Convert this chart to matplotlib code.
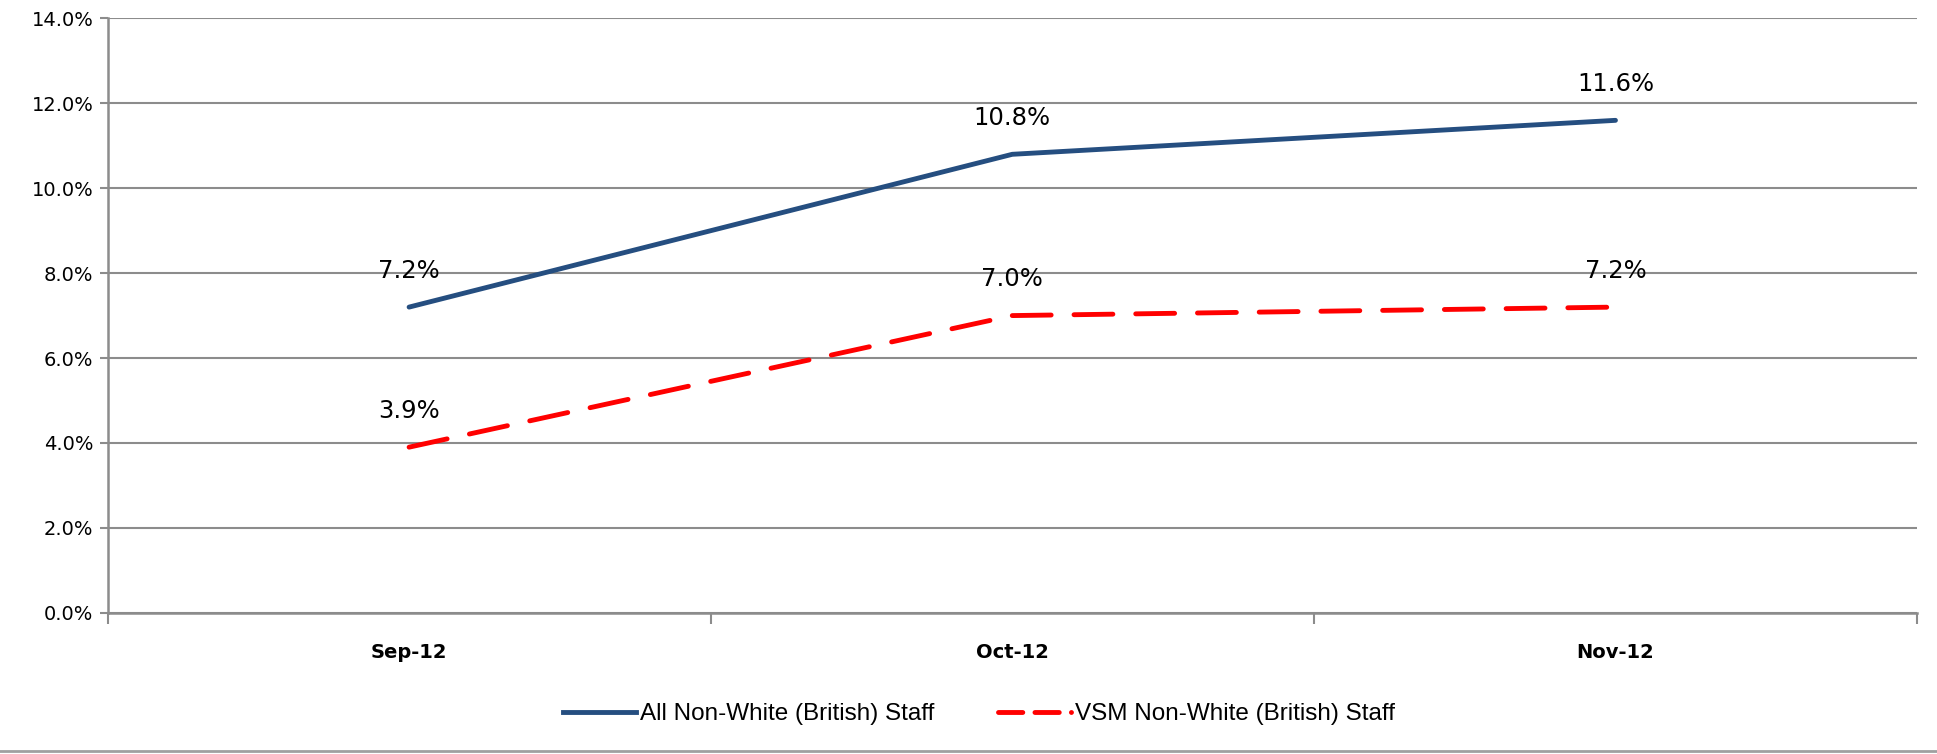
import matplotlib
matplotlib.use("Agg")
import matplotlib.pyplot as plt
from matplotlib.ticker import FuncFormatter, FixedLocator
from matplotlib.lines import Line2D

months = ["Sep-12", "Oct-12", "Nov-12"]
all_staff = [7.2, 10.8, 11.6]
vsm_staff = [3.9, 7.0, 7.2]
series_names = ["All Non-White (British) Staff", "VSM Non-White (British) Staff"]

grid_col = "#8c8c8c"

fig = plt.figure(figsize=(19.37, 7.54), dpi=100)
ax = fig.add_axes([0.0555, 0.1874, 0.9342, 0.7881])

x = list(range(len(months)))
ax.plot(x, all_staff, color="#254e80", lw=3.5, solid_capstyle="round", label=series_names[0])
ax.plot(x, vsm_staff, color="#ff0000", lw=3.5, dashes=(8, 4.7), dash_capstyle="round",
        label=series_names[1])

for xi, v in zip(x, all_staff):
    ax.annotate(f"{v:.1f}%", (xi, v), xytext=(0, 26), textcoords="offset points",
                ha="center", va="center", fontsize=17.5)
for xi, v in zip(x, vsm_staff):
    ax.annotate(f"{v:.1f}%", (xi, v), xytext=(0, 26), textcoords="offset points",
                ha="center", va="center", fontsize=17.5)

ax.set_xlim(-0.5, 2.5)
ax.set_ylim(0, 14)
ax.set_yticks(range(0, 15, 2))
ax.yaxis.set_major_formatter(FuncFormatter(lambda v, p: f"{v:.1f}%"))
ax.tick_params(axis="y", labelsize=14, length=6, width=1.5, color=grid_col, direction="out", pad=4)

ax.set_xticks(x)
ax.set_xticklabels(months, fontsize=14, fontweight="bold")
ax.xaxis.set_minor_locator(FixedLocator([-0.5, 0.5, 1.5, 2.5]))
ax.tick_params(axis="x", which="major", length=0, pad=22)
ax.tick_params(axis="x", which="minor", length=8, width=1.5, color=grid_col, direction="out")

ax.grid(axis="y", color=grid_col, lw=1.5)
ax.set_axisbelow(True)
for s in ["top", "right"]:
    ax.spines[s].set_visible(False)
for s in ["left", "bottom"]:
    ax.spines[s].set_color(grid_col)
    ax.spines[s].set_linewidth(1.8)

handles = [Line2D([], [], color="#254e80", lw=3.5),
           Line2D([], [], color="#ff0000", lw=3.5, dashes=(5, 2.5), dash_capstyle="round")]
fig.legend(handles, series_names, loc="center", bbox_to_anchor=(0.5054, 0.053), ncol=2,
           frameon=False, handlelength=3.0, handletextpad=0.17, columnspacing=2.6,
           prop={"family": ["Liberation Sans Narrow", "Liberation Sans"], "size": 17.5})

# chart area border at the bottom
fig.add_artist(Line2D([0, 1], [0.004, 0.004], transform=fig.transFigure, color="#a0a0a0", lw=2))

fig.savefig("out.png", dpi=100)
